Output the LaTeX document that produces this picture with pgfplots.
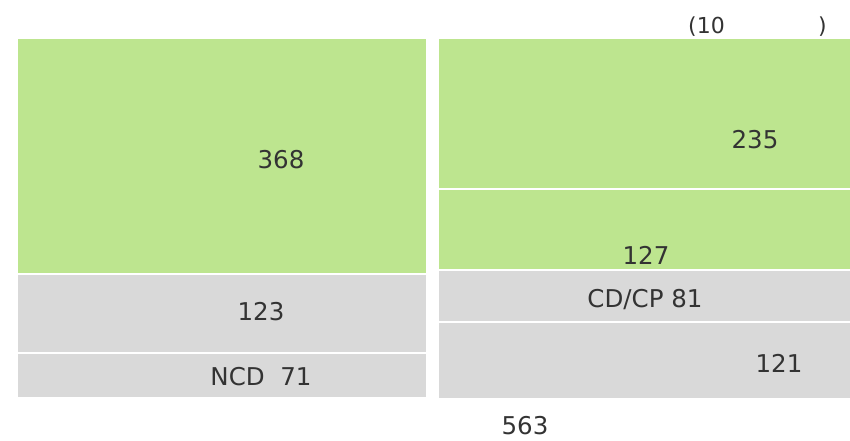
\documentclass[border=0pt]{standalone}
\usepackage{fontspec}
\setmainfont{DejaVu Sans}
\usepackage{pgfplots}
\pgfplotsset{compat=1.18}
\definecolor{bargreen}{HTML}{BDE58F}
\definecolor{bargrey}{HTML}{D9D9D9}
\definecolor{txt}{HTML}{333333}
\pgfplotsset{
  frame/.style={
    width=850bp, height=440bp, scale only axis,
    xmin=0, xmax=850, ymin=-59.31, ymax=627.46,
    y dir=reverse, hide axis, clip=false,
  },
  base/.style={frame, ybar stacked},
  seg/.style={fill=#1, draw=white, line width=2bp},
}
\tikzset{
  lab/.style={text=txt, font=\fontsize{24.5bp}{28bp}\selectfont, inner sep=0pt},
  sml/.style={text=txt, font=\fontsize{22bp}{25bp}\selectfont, inner sep=0pt},
}
\begin{document}
\begin{tikzpicture}
% left column
\begin{axis}[base, bar width=410]
\addplot[seg=bargreen] coordinates {(222,368)};
\addplot[seg=bargrey] coordinates {(222,123)};
\addplot[seg=bargrey] coordinates {(222,71)};
\end{axis}
% right column
\begin{axis}[base, bar width=415, clip=true]
\addplot[seg=bargreen] coordinates {(645.5,235)};
\addplot[seg=bargreen] coordinates {(645.5,127)};
\addplot[seg=bargrey] coordinates {(645.5,81)};
\addplot[seg=bargrey] coordinates {(645.5,121)};
\end{axis}
% labels
\begin{axis}[frame]
\path (rel axis cs:0,0) rectangle (rel axis cs:1,1);
\node[lab] at (axis cs:281,190.4) {368};
\node[lab] at (axis cs:261,427.2) {123};
\node[lab] at (axis cs:261,529.1) {NCD\ \ 71};
\node[lab] at (axis cs:755,159.2) {235};
\node[lab] at (axis cs:646,338.7) {127};
\node[lab] at (axis cs:645,408.9) {CD/CP 81};
\node[lab] at (axis cs:779,507.3) {121};
\node[lab] at (axis cs:525,604.8) {563};
\node[sml, anchor=west] at (axis cs:688,-17.2) {(10};
\node[sml, anchor=east] at (axis cs:827,-17.2) {)};
\end{axis}
\end{tikzpicture}
\end{document}
